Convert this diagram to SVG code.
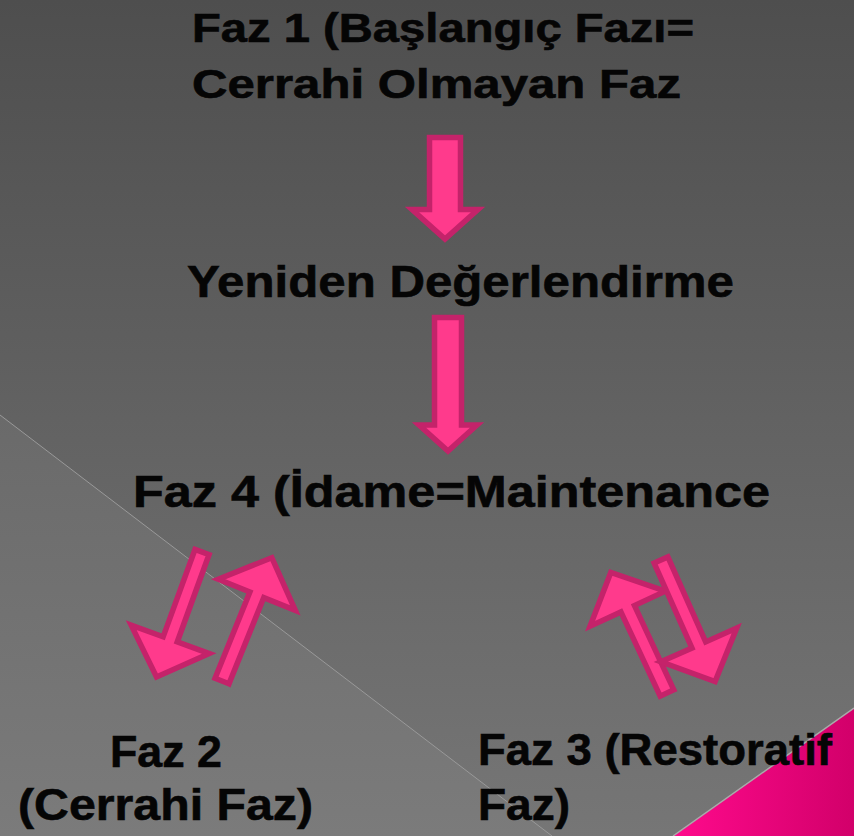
<svg xmlns="http://www.w3.org/2000/svg" width="854" height="836" viewBox="0 0 854 836">
<defs>
<linearGradient id="bg" x1="0" y1="0" x2="0" y2="1">
<stop offset="0" stop-color="#4e4e4e"/>
<stop offset="1" stop-color="#767676"/>
</linearGradient>
<linearGradient id="bgl" x1="0" y1="0" x2="0" y2="1">
<stop offset="0" stop-color="#6a6a6a"/>
<stop offset="1" stop-color="#7b7b7b"/>
</linearGradient>
<linearGradient id="pk" x1="0" y1="0" x2="1" y2="0">
<stop offset="0" stop-color="#ff0a8c"/>
<stop offset="1" stop-color="#d2006a"/>
</linearGradient>
<polygon id="darr" points="-7.5,0 7.5,0 7.5,93 41.5,93 0,133 -41.5,93 -7.5,93"/>
</defs>
<style>
.t{font-family:"Liberation Sans",Arial,sans-serif;font-weight:bold;fill:#050505;stroke:#050505;stroke-width:0.6}
.a{fill:#ff3a8c;stroke:#c4236a;stroke-width:5.5;stroke-linejoin:miter}
</style>
<rect width="854" height="836" fill="url(#bg)"/>
<polygon points="0,415 552,836 0,836" fill="url(#bgl)"/>
<line x1="0" y1="415" x2="552" y2="836" stroke="#999" stroke-width="1"/>
<polygon points="673,836 854,708 854,836" fill="url(#pk)"/>
<line x1="673" y1="836" x2="854" y2="708" stroke="#aaa" stroke-width="1.5"/>

<g id="connectors">
<polygon class="a" points="429.5,137.5 460.5,137.5 460.5,209.5 478,209.5 445,239 412,209.5 429.5,209.5"/>
<polygon class="a" points="434.5,317.5 461.5,317.5 461.5,425 477,425 448,451 419,425 434.5,425"/>
<use href="#darr" class="a" transform="translate(202,552) rotate(20)"/>
<use href="#darr" class="a" transform="translate(222,681) rotate(202)"/>
<use href="#darr" class="a" transform="translate(667,693) rotate(155)"/>
<use href="#darr" class="a" transform="translate(661,560) rotate(-24)"/>
</g>

<g id="faz1">
<text class="t" x="192" y="42" font-size="40" textLength="502" lengthAdjust="spacingAndGlyphs">Faz 1 (Başlangıç Fazı=</text>
<text class="t" x="192" y="98" font-size="40" textLength="489" lengthAdjust="spacingAndGlyphs">Cerrahi Olmayan Faz</text>
</g>
<g id="yeniden">
<text class="t" x="187" y="297" font-size="45" textLength="547" lengthAdjust="spacingAndGlyphs">Yeniden Değerlendirme</text>
</g>
<g id="faz4">
<text class="t" x="133" y="507" font-size="45" textLength="637" lengthAdjust="spacingAndGlyphs">Faz 4 (İdame=Maintenance</text>
</g>
<g id="faz2">
<text class="t" x="110" y="767" font-size="45" textLength="112" lengthAdjust="spacingAndGlyphs">Faz 2</text>
<text class="t" x="18" y="820" font-size="45" textLength="295" lengthAdjust="spacingAndGlyphs">(Cerrahi Faz)</text>
</g>
<g id="faz3">
<text class="t" x="478" y="765" font-size="45" textLength="354" lengthAdjust="spacingAndGlyphs">Faz 3 (Restoratif</text>
<text class="t" x="478" y="820" font-size="45" textLength="92" lengthAdjust="spacingAndGlyphs">Faz)</text>
</g>
</svg>
